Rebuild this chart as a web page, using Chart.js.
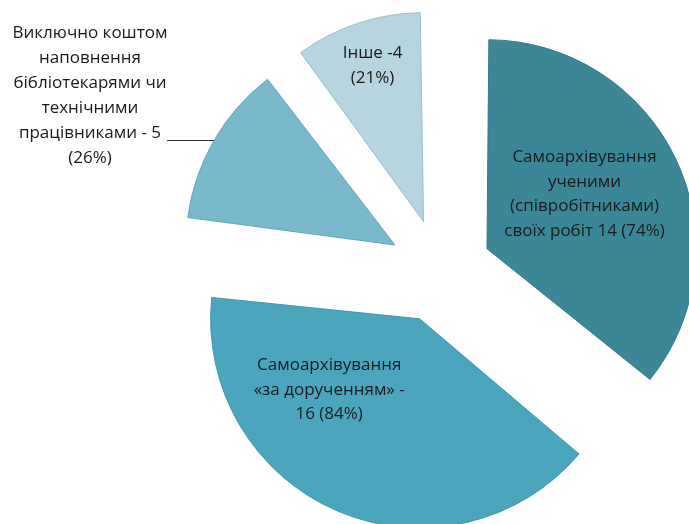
<!DOCTYPE html>
<html><head><meta charset="utf-8">
<script src="https://cdn.jsdelivr.net/npm/chart.js@4.4.1/dist/chart.umd.min.js"></script>
<style>html,body{margin:0;padding:0;background:#fff;overflow:hidden}
#wrap{position:relative;width:689px;height:524px}</style>
</head><body><div id="wrap"><canvas id="c" width="689" height="524"></canvas></div>
<script>
// ---- data ----
const categories = [
  "Самоархівування ученими (співробітниками) своїх робіт",
  "Самоархівування «за дорученням»",
  "Виключно коштом наповнення бібліотекарями чи технічними працівниками",
  "Інше"
];
const values = [14, 16, 5, 4];
const percents = [74, 84, 26, 21];
const labelLines = [
  ["Самоархівування", "ученими", "(співробітниками)", "своїх робіт 14 (74%)"],
  ["Самоархівування", "«за дорученням» -", "16 (84%)"],
  ["Виключно коштом", "наповнення", "бібліотекарями чи", "технічними", "працівниками - 5", "(26%)"],
  ["Інше -4", "(21%)"]
];
// ---- style ----
const sliceColors = ['#3B8798', '#4BA5BC', '#7AB8CD', '#B6D5E0'];
const edgeColors  = ['#327A8B', '#3F97AE', '#62A6BE', '#96C1D0'];
const labelAngleFrac  = [0.47, 0.695, 0.5, 0.51];
const labelRadiusFrac = [0.535, 0.55, null, 0.785];
const R = 209, EXPLODE = 52;
const FONT = '17px "Open Sans"';
const LINE_H = 24.6;

const fixRadius = {
  id: 'fixRadius',
  afterDatasetsUpdate(chart) {
    const meta = chart.getDatasetMeta(0);
    meta.data.forEach(a => {
      const circ = a.endAngle - a.startAngle;
      const fix = 1 - Math.sin(Math.min(Math.PI, circ));
      a.outerRadius = R - EXPLODE * fix;
    });
  }
};

const labelsPlugin = {
  id: 'sliceLabels',
  afterDatasetsDraw(chart) {
    const ctx = chart.ctx;
    const meta = chart.getDatasetMeta(0);
    ctx.save();
    ctx.font = FONT;
    ctx.fillStyle = '#1a1a1a';
    ctx.textAlign = 'center';
    ctx.textBaseline = 'middle';
    meta.data.forEach((a, i) => {
      const mid = (a.startAngle + a.endAngle) / 2;
      const vx = a.x + Math.cos(mid) * EXPLODE;
      const vy = a.y + Math.sin(mid) * EXPLODE;
      const lines = labelLines[i];
      if (labelRadiusFrac[i] !== null) {
        const phi = a.startAngle + labelAngleFrac[i] * (a.endAngle - a.startAngle);
        const cx = vx + Math.cos(phi) * R * labelRadiusFrac[i];
        const cy = vy + Math.sin(phi) * R * labelRadiusFrac[i];
        lines.forEach((t, k) => {
          ctx.fillText(t, cx, cy + (k - (lines.length - 1) / 2) * LINE_H);
        });
      } else {
        // outside label with leader line
        const px = vx + Math.cos(mid) * R;
        const py = vy + Math.sin(mid) * R;
        const lx = px - 47;
        ctx.strokeStyle = '#333';
        ctx.lineWidth = 1;
        ctx.beginPath();
        ctx.moveTo(Math.round(px), Math.round(py) - 0.5);
        ctx.lineTo(Math.round(lx), Math.round(py) - 0.5);
        ctx.stroke();
        const bx = lx - 77;
        lines.forEach((t, k) => {
          ctx.fillText(t, bx, py - 7 + (k - 4) * 25);
        });
      }
    });
    ctx.restore();
  }
};

new Chart(document.getElementById('c'), {
  type: 'pie',
  data: {
    labels: categories,
    datasets: [{
      data: values,
      backgroundColor: sliceColors,
      borderColor: edgeColors,
      borderWidth: 1,
      offset: EXPLODE * 4,
      radius: R,
      clip: false
    }]
  },
  options: {
    responsive: false,
    animation: false,
    layout: { padding: { left: 191, right: 0, top: 18, bottom: 0 } },
    plugins: { legend: { display: false }, tooltip: { enabled: false } },
    events: []
  },
  plugins: [fixRadius, labelsPlugin]
});
</script></body></html>
